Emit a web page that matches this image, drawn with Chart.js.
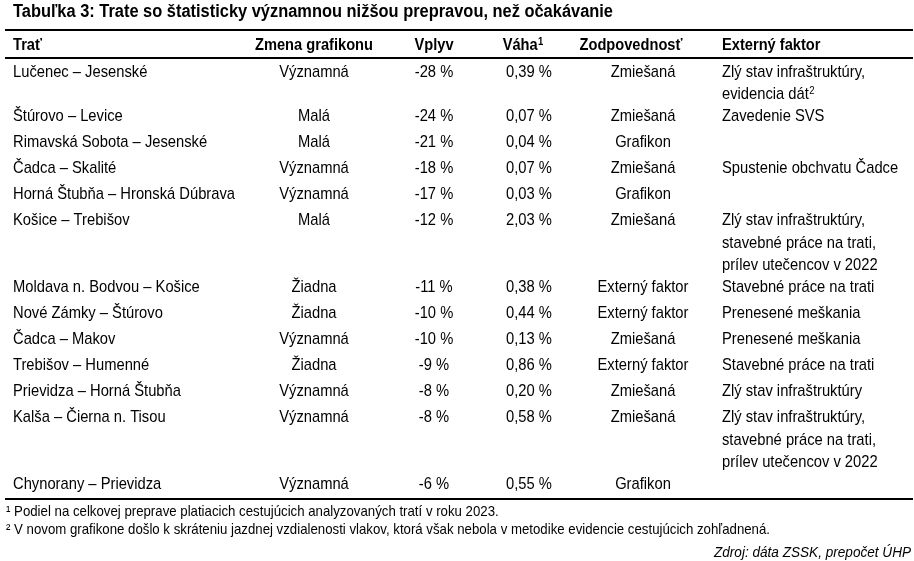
<!DOCTYPE html>
<html>
<head>
<meta charset="utf-8">
<script src="https://cdn.jsdelivr.net/npm/chart.js@4.4.1/dist/chart.umd.min.js"></script>
<style>
  html, body { margin: 0; padding: 0; background: #fff; }
  canvas { display: block; }
</style>
</head>
<body>
<canvas id="tab" width="914" height="561"></canvas>
<script>
// --- data ---
const title = 'Tabuľka 3: Trate so štatisticky významnou nižšou prepravou, než očakávanie';
const headers = ['Trať', 'Zmena grafikonu', 'Vplyv', 'Váha¹', 'Zodpovednosť', 'Externý faktor'];
const trate = ['Lučenec – Jesenské', 'Štúrovo – Levice', 'Rimavská Sobota – Jesenské', 'Čadca – Skalité',
  'Horná Štubňa – Hronská Dúbrava', 'Košice – Trebišov', 'Moldava n. Bodvou – Košice', 'Nové Zámky – Štúrovo',
  'Čadca – Makov', 'Trebišov – Humenné', 'Prievidza – Horná Štubňa', 'Kalša – Čierna n. Tisou', 'Chynorany – Prievidza'];
const zmena = ['Významná', 'Malá', 'Malá', 'Významná', 'Významná', 'Malá', 'Žiadna', 'Žiadna',
  'Významná', 'Žiadna', 'Významná', 'Významná', 'Významná'];
const vplyv = [-28, -24, -21, -18, -17, -12, -11, -10, -10, -9, -8, -8, -6];
const vaha = [0.39, 0.07, 0.04, 0.07, 0.03, 2.03, 0.38, 0.44, 0.13, 0.86, 0.20, 0.58, 0.55];
const zodpovednost = ['Zmiešaná', 'Zmiešaná', 'Grafikon', 'Zmiešaná', 'Grafikon', 'Zmiešaná', 'Externý faktor',
  'Externý faktor', 'Zmiešaná', 'Externý faktor', 'Zmiešaná', 'Zmiešaná', 'Grafikon'];
const externy = [
  ['Zlý stav infraštruktúry,', 'evidencia dát²'],
  ['Zavedenie SVS'],
  [],
  ['Spustenie obchvatu Čadce'],
  [],
  ['Zlý stav infraštruktúry,', 'stavebné práce na trati,', 'prílev utečencov v 2022'],
  ['Stavebné práce na trati'],
  ['Prenesené meškania'],
  ['Prenesené meškania'],
  ['Stavebné práce na trati'],
  ['Zlý stav infraštruktúry'],
  ['Zlý stav infraštruktúry,', 'stavebné práce na trati,', 'prílev utečencov v 2022'],
  []
];
const footnotes = [
  '¹ Podiel na celkovej preprave platiacich cestujúcich analyzovaných tratí v roku 2023.',
  '² V novom grafikone došlo k skráteniu jazdnej vzdialenosti vlakov, ktorá však nebola v metodike evidencie cestujúcich zohľadnená.'
];
const source = 'Zdroj: dáta ZSSK, prepočet ÚHP';

// --- layout (y units = px below the top rule) ---
const headerBase = 20;
const rowsStart = 29;
const firstBase = 17.7;
const lineStep = 22.3;
const singleRow = 26;
const cols = [
  { x: 13, align: 'left' },
  { x: 314, align: 'center' },
  { x: 434, align: 'center' },
  { x: 529, align: 'center', head: 523 },
  { x: 643, align: 'center', head: 631 },
  { x: 722, align: 'left' }
];

const fmtPct = v => v.toFixed(2).replace('.', ',') + ' %';
const cellTexts = [
  trate.map(t => [t]),
  zmena.map(t => [t]),
  vplyv.map(v => [v + ' %']),
  vaha.map(v => [fmtPct(v)]),
  zodpovednost.map(t => [t]),
  externy
];

// row baselines from the number of lines in each row
const rowBase = [];
let rowTop = rowsStart;
externy.forEach(lines => {
  rowBase.push(rowTop + firstBase);
  rowTop += lines.length > 1 ? lineStep * lines.length : singleRow;
});
const rules = [0, 28, 469.3];

// --- fonts: pick a narrow face if present, then fit width to the reference ---
const probe = document.createElement('canvas').getContext('2d');
function hasFont(f) {
  probe.font = '40px monospace';
  const a = probe.measureText('Hronská Dúbrava 2022').width;
  probe.font = `40px "${f}", monospace`;
  return probe.measureText('Hronská Dúbrava 2022').width !== a;
}
const face = ['Liberation Sans Narrow', 'Arial Narrow', 'Liberation Sans', 'Arial'].find(hasFont) || 'sans-serif';
function makeFont(style, weight, size, sample, width) {
  const css = `${style} ${weight} ${size}px "${face}", sans-serif`;
  probe.font = css;
  const sup = `${style} ${weight} ${Math.round(size * 0.64)}px "${face}", sans-serif`;
  return { css, sup, size, sx: width / probe.measureText(sample).width };
}
const fonts = {
  title: makeFont('normal', 'bold', 17.5, title, 600),
  head: makeFont('normal', 'bold', 17, 'Zmena grafikonu', 118),
  body: makeFont('normal', 'normal', 17, 'Horná Štubňa – Hronská Dúbrava', 222),
  note: makeFont('normal', 'normal', 15, footnotes[1], 764),
  src: makeFont('italic', 'normal', 15, source, 197)
};

const supDigits = { '¹': '1', '²': '2' };
function drawText(ctx, text, x, y, align, font) {
  ctx.save();
  ctx.translate(x, y);
  ctx.scale(font.sx, 1);
  const last = text.slice(-1);
  if (supDigits[last]) {
    // trailing footnote mark drawn as a raised smaller digit
    const base = text.slice(0, -1);
    ctx.font = font.css;
    const w1 = ctx.measureText(base).width;
    ctx.font = font.sup;
    const w2 = ctx.measureText(supDigits[last]).width + 0.5;
    let x0 = 0;
    if (align === 'center') x0 = -(w1 + w2) / 2;
    else if (align === 'right') x0 = -(w1 + w2);
    ctx.textAlign = 'left';
    ctx.font = font.css;
    ctx.fillText(base, x0, 0);
    ctx.font = font.sup;
    ctx.fillText(supDigits[last], x0 + w1 + 0.5, -font.size * 0.3);
  } else {
    ctx.font = font.css;
    ctx.textAlign = align;
    ctx.fillText(text, 0, 0);
  }
  ctx.restore();
}

const tableText = {
  id: 'tableText',
  afterDraw(chart) {
    const { ctx, chartArea, scales: { x, y } } = chart;
    ctx.save();
    ctx.fillStyle = '#000';
    ctx.textBaseline = 'alphabetic';
    drawText(ctx, title, 13, chartArea.top - 13, 'left', fonts.title);
    headers.forEach((h, c) => {
      const hx = cols[c].head !== undefined ? cols[c].head : cols[c].x;
      drawText(ctx, h, x.getPixelForValue(hx), y.getPixelForValue(headerBase), cols[c].align, fonts.head);
    });
    chart.data.datasets.forEach((ds, c) => {
      chart.getDatasetMeta(c).data.forEach((pt, i) => {
        ds.cells[i].forEach((line, k) => {
          drawText(ctx, line, pt.x, y.getPixelForValue(ds.data[i].y + k * lineStep), ds.align, fonts.body);
        });
      });
    });
    footnotes.forEach((f, i) => drawText(ctx, f, 6, chartArea.bottom + 16.7 + i * 18, 'left', fonts.note));
    drawText(ctx, source, 911, chartArea.bottom + 57.7, 'right', fonts.src);
    ctx.restore();
  }
};

new Chart(document.getElementById('tab'), {
  type: 'scatter',
  data: {
    datasets: cellTexts.map((texts, c) => ({
      data: rowBase.map(b => ({ x: cols[c].x, y: b })),
      cells: texts,
      align: cols[c].align,
      pointRadius: 0,
      pointHoverRadius: 0,
      clip: false
    }))
  },
  options: {
    responsive: false,
    animation: false,
    devicePixelRatio: 1,
    layout: { padding: { top: 30, bottom: 561 - 499.3, left: 5, right: 1 } },
    plugins: { legend: { display: false }, tooltip: { enabled: false }, title: { display: false } },
    events: [],
    scales: {
      x: { type: 'linear', display: false, min: 5, max: 913 },
      y: {
        type: 'linear',
        reverse: true,
        min: 0,
        max: 469.3,
        afterBuildTicks: s => { s.ticks = rules.map(v => ({ value: v })); },
        ticks: { display: false },
        grid: { color: '#000', lineWidth: 2, drawTicks: false },
        border: { display: false }
      }
    }
  },
  plugins: [tableText]
});
</script>
</body>
</html>
